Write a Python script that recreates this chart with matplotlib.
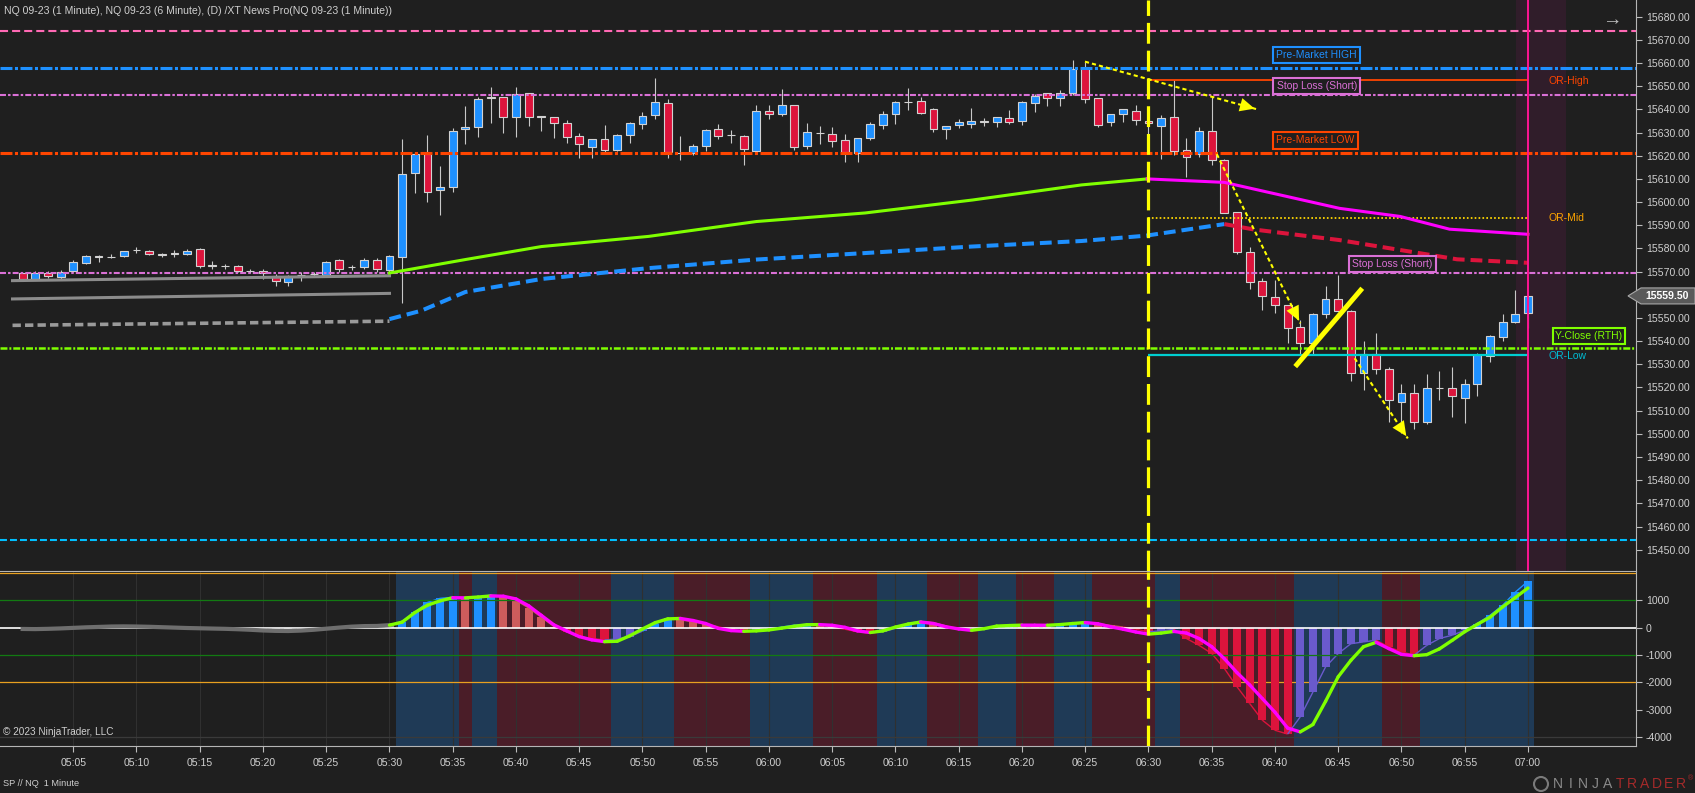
import numpy as np
import pandas as pd
import matplotlib
matplotlib.use("Agg")
import matplotlib.pyplot as plt
from matplotlib.collections import LineCollection
from matplotlib.patches import Polygon, Circle
from matplotlib.transforms import IdentityTransform

plt.rcParams['font.family'] = ['Liberation Sans', 'DejaVu Sans']
plt.rcParams['lines.scale_dashes'] = False

# ---- NQ 09-23 1 minute bars, 05:01 .. 07:00 ----
bar_times = pd.date_range('2023-07-10 05:01', periods=120, freq='1min')

opens = [15569.2, 15567.0, 15569.2, 15567.8, 15570.4, 15573.6, 15576.5, 15576.3, 15576.6, 15579.2,
         15578.7, 15577.8, 15577.8, 15577.8, 15579.7, 15572.5, 15572.4, 15572.5, 15570.2, 15570.2,
         15568.1, 15565.5, 15568.4, 15569.0, 15568.4, 15575.0, 15571.8, 15571.8, 15575.0, 15570.5,
         15576.5, 15612.4, 15620.7, 15605.0, 15606.6, 15631.4, 15632.5, 15645.0, 15645.2, 15636.6,
         15646.9, 15636.9, 15636.6, 15634.0, 15628.4, 15623.9, 15627.1, 15622.6, 15628.8, 15633.6,
         15637.4, 15642.6, 15621.2, 15621.0, 15624.0, 15631.4, 15628.8, 15628.4, 15622.1, 15639.2,
         15638.2, 15641.8, 15624.3, 15629.8, 15629.2, 15626.6, 15621.0, 15627.6, 15633.3, 15637.8,
         15643.0, 15643.5, 15640.0, 15631.7, 15633.4, 15633.6, 15634.7, 15634.4, 15636.2, 15634.9,
         15642.6, 15646.9, 15644.8, 15646.9, 15658.0, 15644.8, 15634.4, 15637.9, 15639.1, 15635.1,
         15633.0, 15636.6, 15622.5, 15620.6, 15630.7, 15618.1, 15595.8, 15578.6, 15566.1, 15559.2,
         15555.4, 15546.2, 15539.3, 15551.5, 15558.0, 15553.1, 15526.3, 15534.6, 15527.8, 15513.6,
         15517.5, 15505.3, 15519.7, 15519.7, 15515.6, 15521.7, 15533.5, 15541.8, 15548.1, 15552.3]

highs = [15569.6, 15570.4, 15570.1, 15570.9, 15575.0, 15577.2, 15577.2, 15577.4, 15579.0, 15580.6,
         15579.3, 15578.1, 15579.2, 15579.6, 15580.0, 15574.7, 15573.3, 15572.8, 15571.2, 15571.0,
         15569.0, 15568.5, 15569.8, 15570.0, 15574.6, 15575.3, 15573.0, 15575.9, 15576.0, 15577.2,
         15627.2, 15621.7, 15629.1, 15615.6, 15631.8, 15641.5, 15645.5, 15649.5, 15645.5, 15649.5,
         15647.0, 15637.2, 15636.8, 15635.5, 15629.8, 15627.3, 15633.3, 15629.4, 15634.7, 15638.9,
         15653.5, 15644.3, 15628.5, 15624.9, 15631.5, 15633.7, 15630.9, 15629.0, 15641.8, 15641.8,
         15648.8, 15641.8, 15634.0, 15632.8, 15632.4, 15629.4, 15627.5, 15634.5, 15639.3, 15643.5,
         15649.1, 15645.5, 15640.4, 15632.7, 15635.7, 15640.4, 15636.1, 15636.7, 15639.6, 15643.5,
         15646.5, 15647.0, 15648.4, 15661.3, 15660.6, 15644.8, 15637.9, 15640.0, 15641.9, 15637.1,
         15637.6, 15652.7, 15627.5, 15632.3, 15645.5, 15618.8, 15595.8, 15580.8, 15567.1, 15566.3,
         15555.5, 15549.2, 15552.2, 15563.8, 15568.5, 15553.3, 15539.9, 15543.7, 15529.0, 15521.3,
         15521.3, 15525.8, 15527.2, 15528.7, 15523.5, 15534.9, 15542.8, 15551.9, 15562.0, 15559.6]

lows = [15566.5, 15566.6, 15567.3, 15567.0, 15570.0, 15573.2, 15574.0, 15576.0, 15576.4, 15578.0,
        15577.3, 15576.4, 15576.4, 15577.0, 15571.7, 15571.0, 15571.3, 15569.8, 15569.3, 15566.7,
        15564.0, 15564.0, 15566.0, 15568.0, 15567.5, 15570.0, 15570.5, 15571.2, 15570.0, 15570.0,
        15556.3, 15603.8, 15600.2, 15594.4, 15604.5, 15625.1, 15628.2, 15634.3, 15629.7, 15628.2,
        15632.8, 15630.5, 15627.5, 15625.3, 15619.1, 15619.1, 15621.0, 15621.9, 15625.6, 15631.7,
        15636.0, 15619.1, 15618.2, 15620.1, 15622.0, 15627.1, 15625.5, 15615.9, 15621.4, 15635.9,
        15637.3, 15622.5, 15622.9, 15625.1, 15623.8, 15617.4, 15617.4, 15626.8, 15631.5, 15633.7,
        15639.7, 15638.2, 15630.4, 15627.2, 15631.9, 15632.1, 15633.0, 15632.4, 15633.5, 15633.4,
        15639.0, 15641.5, 15641.5, 15646.0, 15642.9, 15632.5, 15633.0, 15634.7, 15633.3, 15628.5,
        15618.6, 15620.3, 15610.9, 15619.3, 15616.0, 15595.4, 15577.6, 15562.3, 15553.4, 15552.3,
        15539.0, 15534.0, 15534.0, 15549.8, 15553.1, 15522.7, 15519.1, 15526.0, 15505.0, 15500.5,
        15502.2, 15504.3, 15514.4, 15507.4, 15504.8, 15516.4, 15531.2, 15539.9, 15548.0, 15545.5]

closes = [15566.9, 15569.5, 15568.3, 15570.0, 15574.0, 15576.8, 15576.5, 15576.5, 15578.7, 15579.2,
          15577.8, 15577.0, 15577.8, 15578.7, 15572.5, 15572.5, 15572.4, 15570.1, 15570.2, 15569.2,
          15566.0, 15568.0, 15568.4, 15569.0, 15574.0, 15571.0, 15571.8, 15575.0, 15571.3, 15576.8,
          15612.1, 15620.7, 15604.5, 15606.4, 15630.5, 15632.4, 15644.5, 15645.0, 15636.6, 15646.5,
          15636.6, 15636.9, 15634.0, 15628.0, 15624.9, 15627.1, 15622.3, 15628.8, 15634.0, 15637.0,
          15643.0, 15621.5, 15621.2, 15624.0, 15630.9, 15628.4, 15628.8, 15623.0, 15639.2, 15637.8,
          15641.8, 15623.9, 15630.1, 15629.8, 15626.5, 15621.6, 15627.5, 15633.5, 15637.8, 15643.0,
          15643.0, 15638.6, 15631.7, 15632.7, 15634.4, 15634.9, 15634.7, 15636.7, 15634.4, 15643.0,
          15645.8, 15644.8, 15646.9, 15657.4, 15644.3, 15633.4, 15637.9, 15640.0, 15635.4, 15634.0,
          15636.1, 15622.2, 15619.3, 15630.7, 15618.1, 15595.4, 15578.3, 15565.6, 15559.6, 15555.4,
          15545.5, 15539.0, 15551.5, 15558.0, 15553.1, 15526.3, 15534.6, 15527.8, 15514.4, 15517.5,
          15505.3, 15519.7, 15519.7, 15516.2, 15521.3, 15534.2, 15542.4, 15548.2, 15551.6, 15559.5]

# horizontal levels
top_level = 15674.0
pm_high = 15658.0
or_high = 15652.75
stop_high = 15646.2
pm_low = 15621.0
or_mid = 15593.1
stop_low = 15569.3
y_close = 15537.0
or_low = 15534.0
low_level = 15454.1

# 6 minute overlays: (bar index, price)
band_up_t, band_up_p = [-0.8, 29], [15566.1, 15568.2]
band_lo_t, band_lo_p = [-0.8, 29], [15558.2, 15560.6]
slow_pre_t, slow_pre_p = [-0.8, 29], [15546.8, 15548.6]
slow_up_t = [29, 31.5, 35, 41, 49.5, 58, 66.6, 75, 83.7, 88.8, 95]
slow_up_p = [15549.5, 15553.1, 15561.2, 15566.8, 15571.5, 15575.2, 15578.0, 15580.8, 15583.2, 15585.5, 15590.5]
slow_dn_t = [95, 97.3, 104.1, 113.4, 119]
slow_dn_p = [15590.5, 15588.2, 15583.6, 15575.3, 15573.8]
fast_up_t = [29, 35, 41, 49.5, 58, 66.6, 75.1, 83.7, 88.9]
fast_up_p = [15569.4, 15575.2, 15580.8, 15585.2, 15591.6, 15595.3, 15600.9, 15607.4, 15610.0]
fast_dn_t = [88.9, 95, 104.1, 108.9, 112.8, 119]
fast_dn_p = [15610.0, 15608.5, 15597.3, 15593.8, 15588.3, 15586.1]

# hand drawn yellow arrows and trend line
arrow_t0 = [83.98, 94.4, 105.3]
arrow_p0 = [15660.6, 15620.7, 15532.6]
arrow_t1 = [97.6, 101.0, 109.5]
arrow_p1 = [15640.0, 15547.7, 15498.0]
trend_t = [100.6, 105.9]
trend_p = [15529.0, 15562.8]

# lower panel oscillator
osc_hist = [-40, -45, -35, -20, 0, 15, 25, 35, 40, 35, 25, 10, -5, -20, -30, -40, -55, -70, -90, -105,
            -115, -110, -90, -60, -30, 10, 40, 55, 60, 70,
            217, 559, 926, 1072, 1109, 1048, 1110, 1190, 1150, 1000, 720, 380, 40, -150, -330, -400,
            -450, -420, -330, -130, 120, 340, 280, 217, 120, 30, -80, -130, -120, -60, 20, 90, 120,
            80, 30, -60, -150, -200, -150, -30, 150, 230, 180, 60, -40, -100, -60, 20, 60, 55, 45, 40,
            100, 160, 200, 150, 80, 20, -60, -150, -120, -60, -400, -650, -950, -1500, -2170, -2780,
            -3390, -3760, -3900, -3270, -2360, -1440, -950, -590, -525, -460, -710, -890, -1010,
            -650, -400, -280, -100, 150, 450, 820, 1300, 1700]
osc_line = [-50, -55, -45, -30, -10, 10, 25, 40, 45, 40, 30, 15, 0, -15, -25, -35, -45, -60, -80, -105,
            -120, -125, -110, -80, -40, 0, 35, 55, 60, 90,
            200, 550, 820, 980, 1095, 1090, 1120, 1160, 1150, 1050, 800, 450, 100, -120, -330, -450,
            -515, -500, -300, -50, 180, 320, 335, 260, 150, -30, -110, -135, -120, -85, -20, 50, 105,
            110, 85, 10, -120, -180, -120, 20, 130, 205, 150, 30, -50, -100, -40, 55, 75, 90, 88, 85,
            110, 150, 185, 140, 30, -60, -160, -240, -200, -140, -200, -400, -700, -1140, -1650,
            -2100, -2600, -3100, -3680, -3820, -3550, -2700, -1800, -1200, -700, -540, -770, -980,
            -1030, -990, -780, -470, -150, 120, 380, 760, 1100, 1450]
# background regime from 05:31: (state, number of bars)
regime_start = 30
regime_runs = [('up', 5), ('dn', 1), ('up', 2), ('dn', 9), ('up', 5), ('dn', 6), ('up', 5), ('dn', 5),
               ('up', 4), ('dn', 4), ('up', 3), ('dn', 3), ('up', 3), ('dn', 5), ('up', 2), ('dn', 9),
               ('up', 7), ('dn', 3), ('up', 9)]
osc_ticks = [1000, 0, -1000, -2000, -3000, -4000]

# ---------------- styling ----------------
BG = '#1f1f1f'
TXT = '#cfcfcf'
BLUE = '#1e90ff'
RED = '#dc143c'
LRED = '#cd5c5c'
SLATE = '#6a5acd'
LIME = '#7fff00'
MAG = '#ff00ff'
YEL = '#ffff00'
W, H = 1695, 793


def box(x0, y0, x1, y1):
    return [x0 / W, 1 - y1 / H, (x1 - x0) / W, (y1 - y0) / H]


fig = plt.figure(figsize=(W / 100, H / 100), dpi=100, facecolor=BG)
ax = fig.add_axes(box(0, 0, 1636, 571), facecolor=BG)
ax2 = fig.add_axes(box(0, 571.5, 1636, 746), facecolor=BG)

x = np.arange(len(bar_times))
o, h, l, c = map(np.array, (opens, highs, lows, closes))
xlim = (-1.79, 127.54)

# ---- price panel ----
ax.axvspan(118.06, 122.0, color='#301d2a', lw=0, zorder=0)
ax.vlines(x, l, h, color='#c8c8c8', lw=0.8, zorder=2)
face = np.where(c > o, BLUE, np.where(c < o, RED, '#c8c8c8'))
ax.bar(x, np.maximum(np.abs(c - o), 0.15), bottom=np.minimum(o, c), width=0.62,
       color=face, edgecolor='#d2d2d2', linewidth=0.8, zorder=3)

ax.axhline(top_level, color='#ff69b4', lw=1.5, ls=(0, (5.8, 2.9)), zorder=4)
ax.axhline(pm_high, color=BLUE, lw=2.2, ls=(0, (8.6, 1.8, 2.2, 1.8)), zorder=4)
ax.axhline(stop_high, color='#da70d6', lw=1.5, ls=(0, (4.3, 1.5, 1.8, 1.5)), zorder=4)
ax.axhline(pm_low, color='#ff4500', lw=2.2, ls=(0, (8.6, 1.8, 2.2, 1.8)), zorder=4)
ax.axhline(stop_low, color='#da70d6', lw=1.5, ls=(0, (4.3, 1.5, 1.8, 1.5)), zorder=4)
ax.axhline(y_close, color=LIME, lw=1.8, ls=(0, (5, 1.4, 1.4, 1.4)), zorder=4)
ax.axhline(low_level, color='#00bfff', lw=1.5, ls=(0, (5, 2.2)), zorder=4)
ax.hlines(or_high, 89, 119, color='#ff4500', lw=1.3, zorder=4)
ax.hlines(or_mid, 89, 119, color='#ffd700', lw=1.3, ls=(0, (1.2, 1.6)), zorder=4)
ax.hlines(or_low, 89, 119, color='#00ced1', lw=1.6, zorder=4)

ax.plot(band_up_t, band_up_p, color='#8c8c8c', lw=2.2, zorder=4)
ax.plot(band_lo_t, band_lo_p, color='#8c8c8c', lw=2.2, zorder=4)
ax.plot(slow_pre_t, slow_pre_p, color='#9a9a9a', lw=2.6, ls=(0, (6, 3)), zorder=4)
ax.plot(slow_up_t, slow_up_p, color=BLUE, lw=2.9, ls=(0, (8.5, 4.3)), zorder=4)
ax.plot(slow_dn_t, slow_dn_p, color=RED, lw=2.9, ls=(0, (8.5, 4.3)), zorder=4)
ax.plot(fast_up_t, fast_up_p, color=LIME, lw=2.2, zorder=4)
ax.plot(fast_dn_t, fast_dn_p, color=MAG, lw=2.2, zorder=4)

ax.axvline(119, color='#ff1493', lw=1.4, zorder=5)
for a in (ax, ax2):
    a.axvline(89, color=YEL, lw=2.3, ls=(0, (15, 5)), zorder=7)

for t0, p0, t1, p1 in zip(arrow_t0, arrow_p0, arrow_t1, arrow_p1):
    ax.plot([t0, t1], [p0, p1], color=YEL, lw=1.5, ls=(0, (3, 2.2)), zorder=7)
    tm, pm = t0 + 0.8 * (t1 - t0), p0 + 0.8 * (p1 - p0)
    ax.annotate('', xy=(t1, p1), xytext=(tm, pm), zorder=7,
                arrowprops=dict(arrowstyle='-|>,head_length=0.75,head_width=0.35',
                                color=YEL, lw=0.01, mutation_scale=14))
ax.plot(trend_t, trend_p, color=YEL, lw=3.6, solid_capstyle='butt', zorder=7)

lab = dict(fontsize=7.5, ha='center', va='center', zorder=8)
ax.text(102.3, 15663.5, 'Pre-Market HIGH', color=BLUE,
        bbox=dict(boxstyle='square,pad=0.3', fc=BG, ec=BLUE, lw=1.5), **lab)
ax.text(102.3, 15650.0, 'Stop Loss (Short)', color='#da70d6',
        bbox=dict(boxstyle='square,pad=0.3', fc=BG, ec='#da70d6', lw=1.5), **lab)
ax.text(102.2, 15626.6, 'Pre-Market LOW', color='#ff4500',
        bbox=dict(boxstyle='square,pad=0.3', fc=BG, ec='#ff4500', lw=1.5), **lab)
ax.text(108.3, 15573.4, 'Stop Loss (Short)', color='#da70d6',
        bbox=dict(boxstyle='square,pad=0.3', fc=BG, ec='#da70d6', lw=1.5), **lab)
ax.text(123.8, 15542.2, 'Y-Close (RTH)', color=LIME,
        bbox=dict(boxstyle='square,pad=0.25', fc=BG, ec=LIME, lw=1.5), **lab)
ax.text(120.6, or_high - 0.3, 'OR-High', color='#ff4500', fontsize=7.5, va='center', zorder=8)
ax.text(120.6, or_mid, 'OR-Mid', color='#ffa500', fontsize=7.5, va='center', zorder=8)
ax.text(120.6, or_low - 0.5, 'OR-Low', color='#00bcd4', fontsize=7.5, va='center', zorder=8)
ax.text(125.6, 15678.3, '\u2192', color='#bdbdbd', fontsize=14, ha='center', va='center')
ax.text(0.0025, 0.981, 'NQ 09-23 (1 Minute), NQ 09-23 (6 Minute), (D) /XT News Pro(NQ 09-23 (1 Minute))',
        transform=ax.transAxes, color=TXT, fontsize=7.6, va='center')

ax.set_xlim(*xlim)
ax.set_ylim(15440.8, 15687.2)
price_ticks = np.arange(15450, 15681, 10)
ax.yaxis.tick_right()
ax.set_yticks(price_ticks)
ax.set_yticklabels([f'{v:.2f}' for v in price_ticks])
ax.tick_params(axis='y', colors='#bdbdbd', labelcolor=TXT, labelsize=7.6, length=4, pad=3)
ax.tick_params(axis='x', bottom=False, labelbottom=False)
for s in ('top', 'left'):
    ax.spines[s].set_visible(False)
ax.spines['right'].set_color('#b5b5b5')
ax.spines['bottom'].set_color('#b5b5b5')

# ---- oscillator panel ----
shade = {'up': '#1f3a56', 'dn': '#4a1d28'}
start = regime_start
for state, n in regime_runs:
    ax2.axvspan(start - 0.5, start + n - 0.5, color=shade[state], lw=0, zorder=0)
    start += n

tick_idx = [i for i, t in enumerate(bar_times) if t.minute % 5 == 0]
tick_lab = [bar_times[i].strftime('%H:%M') for i in tick_idx]
for t in tick_idx:
    ax2.axvline(t, color='#303030', lw=0.8, zorder=1)

ax2.axhline(2000, color='#e8a020', lw=0.9, zorder=1.5)
ax2.axhline(-2000, color='#e8a020', lw=0.9, zorder=1.5)
ax2.axhline(-4000, color='#3a3a3a', lw=0.9, zorder=1.5)

hist = np.array(osc_hist, dtype=float)
prev = np.r_[hist[0], hist[:-1]]
hcol = np.where(hist >= 0, np.where(hist >= prev, BLUE, LRED), np.where(hist < prev, RED, SLATE))
hcol[:regime_start] = '#7a7a7a'
ax2.bar(x, hist, width=0.64, color=hcol, lw=0, zorder=2)
tr_seg = [[(i, hist[i]), (i + 1, hist[i + 1])] for i in range(regime_start - 1, len(x) - 1)]
ax2.add_collection(LineCollection(tr_seg, colors=hcol[regime_start:], linewidths=1.0, zorder=3))

ax2.axhline(1000, color='#127a12', lw=0.9, zorder=4)
ax2.axhline(-1000, color='#127a12', lw=0.9, zorder=4)
ax2.axhline(0, color='white', lw=1.2, zorder=4)

sig = np.array(osc_line, dtype=float)
ax2.plot(x[:regime_start], sig[:regime_start], color='#6e6e6e', lw=3, zorder=5)
segs = [[(i, sig[i]), (i + 1, sig[i + 1])] for i in range(regime_start - 1, len(x) - 1)]
scol = [LIME if sig[i + 1] >= sig[i] else MAG for i in range(regime_start - 1, len(x) - 1)]
ax2.add_collection(LineCollection(segs, colors=scol, linewidths=2.4, capstyle='round', zorder=5))

ax2.set_xlim(*xlim)
ax2.set_ylim(-4337, 2055)
ax2.yaxis.tick_right()
ax2.set_yticks(osc_ticks)
ax2.set_yticklabels([str(v) for v in osc_ticks])
ax2.set_xticks(tick_idx)
ax2.set_xticklabels(tick_lab)
ax2.tick_params(colors='#bdbdbd', labelcolor=TXT, labelsize=7.6, length=4, pad=3)
ax2.tick_params(axis='x', pad=5)
for s in ('top', 'left'):
    ax2.spines[s].set_visible(False)
ax2.spines['right'].set_color('#b5b5b5')
ax2.spines['bottom'].set_color('#b5b5b5')
ax2.text(0.002, 0.08, '\u00a9 2023 NinjaTrader, LLC', transform=ax2.transAxes,
         color=TXT, fontsize=7.2, va='center')

# last price flag on the price scale
fig.canvas.draw()
yp = ax.transData.transform((0, c[-1]))[1]
xa = ax.transAxes.transform((1, 0))[0]
flag = Polygon([(xa - 8, yp), (xa + 5, yp + 8), (W, yp + 8), (W, yp - 8), (xa + 5, yp - 8)],
               closed=True, transform=IdentityTransform(), fc='#5a5a5a', ec='#a8a8a8', lw=0.8)
fig.add_artist(flag)
fig.text((xa + 31) / W, yp / H, f'{c[-1]:.2f}', color='white', fontsize=7.6,
         fontweight='bold', ha='center', va='center')

# footer
fig.text(3 / W, 1 - 784 / H, 'SP // NQ  1 Minute', color=TXT, fontsize=6.6, va='center')
fig.add_artist(Circle((1541, H - 784), 7, transform=IdentityTransform(),
                      fc='none', ec='#7a7a7a', lw=1.5))
for k, ch in enumerate('NINJATRADER'):
    fig.text((1558 + k * 12.3) / W, 1 - 784 / H, ch, color='#8a8a8a' if k < 5 else '#a52a2a',
             fontsize=10, va='center', ha='center')
fig.text(1688 / W, 1 - 779 / H, '\u00ae', color='#a52a2a', fontsize=5, va='center')

fig.savefig('out.png', dpi=100, facecolor=BG)
